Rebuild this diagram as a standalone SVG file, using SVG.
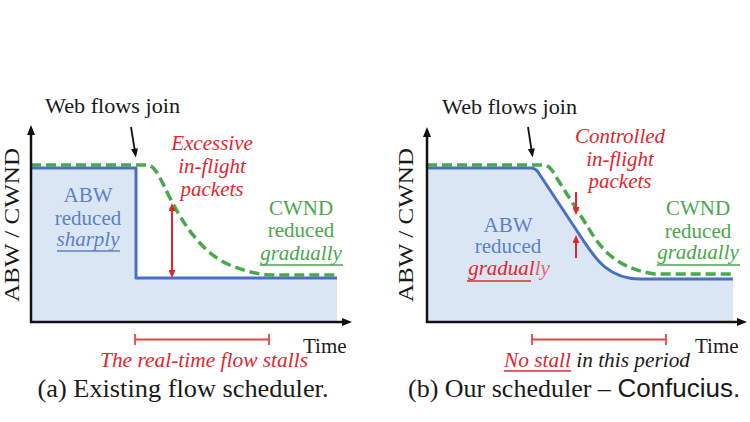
<svg xmlns="http://www.w3.org/2000/svg" width="750" height="422" viewBox="0 0 750 422">
<defs>
<style>
.blk{fill:#1a1a1a;}
.btxt{fill:#5b80c6;}
.gtxt{fill:#4aa74c;}
.rtxt{fill:#e2262d;}
.it{font-style:italic;}
.fill{fill:#dbe6f4;stroke:none;}
.abw{fill:none;stroke:#4a70c2;stroke-width:3;stroke-linejoin:round;}
.cwnd{fill:none;stroke:#49a84b;stroke-width:3.5;stroke-dasharray:10 5;}
.axis{stroke:#111;stroke-width:2.5;fill:none;marker-end:url(#ahk);}
.join{stroke:#111;stroke-width:1.8;fill:none;marker-end:url(#ahj);}
.rarr{stroke:#e2262d;stroke-width:2;fill:none;}
.brk{stroke:#e8473f;stroke-width:1.8;fill:none;}
.ul-b{stroke:#5b80c6;stroke-width:1.3;}
.ul-g{stroke:#4aa74c;stroke-width:1.3;}
.ul-r{stroke:#e2262d;stroke-width:1.3;}
</style>
<marker id="ahk" viewBox="0 0 10 8" refX="2" refY="4" markerWidth="10" markerHeight="8" markerUnits="userSpaceOnUse" orient="auto"><path d="M0,0 L10,4 L0,8 z" fill="#111"/></marker>
<marker id="ahj" viewBox="0 0 10 8" refX="2" refY="4" markerWidth="10" markerHeight="7" markerUnits="userSpaceOnUse" orient="auto"><path d="M0,0 L10,4 L0,8 z" fill="#111"/></marker>
<marker id="ahr" viewBox="0 0 8 7" refX="2" refY="3.5" markerWidth="8" markerHeight="7" markerUnits="userSpaceOnUse" orient="auto-start-reverse"><path d="M0,0 L8,3.5 L0,7 z" fill="#e2262d"/></marker>
</defs>
<rect width="750" height="422" fill="#fff"/>

<!-- Panel (a) -->
<g id="panel-a" font-family="Liberation Serif, Times New Roman, serif">
  <g id="a-plot">
    <path class="fill" d="M31,168 H136 V278 H337 V322 H31 Z"/>
    <path class="abw" d="M31,168 H136 V278 H337"/>
    <path class="cwnd" d="M31,165 H147 C155,165 160,178 170,198 C185,228 205,255 230,265 C245,271 258,275 275,275 H337"/>
  </g>
  <g id="a-connectors">
    <line class="axis" x1="31" y1="323" x2="31" y2="133"/>
    <line class="axis" x1="30" y1="322" x2="344" y2="322"/>
    <line class="join" x1="131" y1="127" x2="134.8" y2="150.5"/>
    <line class="rarr" x1="172" y1="209" x2="172" y2="272" marker-start="url(#ahr)" marker-end="url(#ahr)"/>
    <path class="brk" d="M135,334 V345 M135,339.5 H269 M269,334 V345"/>
  </g>
  <text class="blk" font-size="21" transform="translate(19,225) rotate(-90)" text-anchor="middle" textLength="154" lengthAdjust="spacingAndGlyphs">ABW / CWND</text>
  <text class="blk" x="45" y="113" font-size="21" textLength="135" lengthAdjust="spacingAndGlyphs">Web flows join</text>
  <g id="a-abw-label" class="btxt" font-size="21" text-anchor="middle">
    <text x="88" y="202">ABW</text>
    <text x="88" y="225">reduced</text>
    <text x="88" y="246" class="it">sharply</text>
    <line class="ul-b" x1="57" y1="251" x2="120" y2="251"/>
  </g>
  <g id="a-excess-label" class="rtxt it" font-size="21" text-anchor="middle">
    <text x="212" y="150">Excessive</text>
    <text x="212" y="173">in-flight</text>
    <text x="212" y="196">packets</text>
  </g>
  <g id="a-cwnd-label" class="gtxt" font-size="21" text-anchor="middle">
    <text x="301" y="215">CWND</text>
    <text x="301" y="237">reduced</text>
    <text x="301" y="260" class="it">gradually</text>
    <line class="ul-g" x1="260" y1="265" x2="343" y2="265"/>
  </g>
  <text class="blk" x="303" y="353" font-size="21">Time</text>
  <text class="rtxt it" x="204" y="367" font-size="21" text-anchor="middle" textLength="208" lengthAdjust="spacingAndGlyphs">The real-time flow stalls</text>
  <text class="blk" x="183" y="397" font-size="26" text-anchor="middle" textLength="291" lengthAdjust="spacingAndGlyphs">(a) Existing flow scheduler.</text>
</g>

<!-- Panel (b) -->
<g id="panel-b" font-family="Liberation Serif, Times New Roman, serif">
  <g id="b-plot">
    <path class="fill" d="M427,168 H531 Q535,168 538,172 L583,240 C595,258 608,279 640,279 H733 V322 H427 Z"/>
    <path class="abw" d="M427,168 H531 Q535,168 538,172 L583,240 C595,258 608,279 640,279 H733"/>
    <path class="cwnd" d="M427,165 H542 C550,165 552,170 558,180 L586,224 C598,244 612,268 655,274 H733"/>
  </g>
  <g id="b-connectors">
    <line class="axis" x1="427" y1="323" x2="427" y2="135"/>
    <line class="axis" x1="426" y1="322" x2="739" y2="322"/>
    <line class="join" x1="528" y1="127" x2="531.6" y2="150.5"/>
    <line class="rarr" x1="576" y1="192" x2="576" y2="209" marker-end="url(#ahr)"/>
    <line class="rarr" x1="576" y1="258" x2="576" y2="241" marker-end="url(#ahr)"/>
    <path class="brk" d="M532,334 V345 M532,339.5 H666 M666,334 V345"/>
  </g>
  <text class="blk" font-size="21" transform="translate(413,225) rotate(-90)" text-anchor="middle" textLength="154" lengthAdjust="spacingAndGlyphs">ABW / CWND</text>
  <text class="blk" x="442" y="114" font-size="21" textLength="135" lengthAdjust="spacingAndGlyphs">Web flows join</text>
  <g id="b-abw-label" class="btxt" font-size="21" text-anchor="middle">
    <text x="508" y="232">ABW</text>
    <text x="508" y="253">reduced</text>
    <text x="509" y="275" class="it"><tspan class="rtxt">gradual</tspan><tspan fill="#dd6672">ly</tspan></text>
    <line class="ul-r" x1="467" y1="281" x2="531" y2="281"/>
  </g>
  <g id="b-ctrl-label" class="rtxt it" font-size="21" text-anchor="middle">
    <text x="620" y="143">Controlled</text>
    <text x="620" y="166">in-flight</text>
    <text x="620" y="188">packets</text>
  </g>
  <g id="b-cwnd-label" class="gtxt" font-size="21" text-anchor="middle">
    <text x="698" y="215">CWND</text>
    <text x="698" y="238">reduced</text>
    <text x="698" y="259" class="it">gradually</text>
    <line class="ul-g" x1="657" y1="265" x2="740" y2="265"/>
  </g>
  <text class="blk" x="695" y="353" font-size="21">Time</text>
  <text class="it" x="504" y="367" font-size="21" textLength="186" lengthAdjust="spacingAndGlyphs"><tspan class="rtxt">No stall</tspan><tspan class="blk"> in this period</tspan></text>
  <line class="ul-r" x1="504" y1="371" x2="571" y2="371"/>
  <text class="blk" x="408" y="397" font-size="26">(b) Our scheduler – <tspan font-family="Liberation Sans, Arial, sans-serif">Confucius.</tspan></text>
</g>
</svg>
